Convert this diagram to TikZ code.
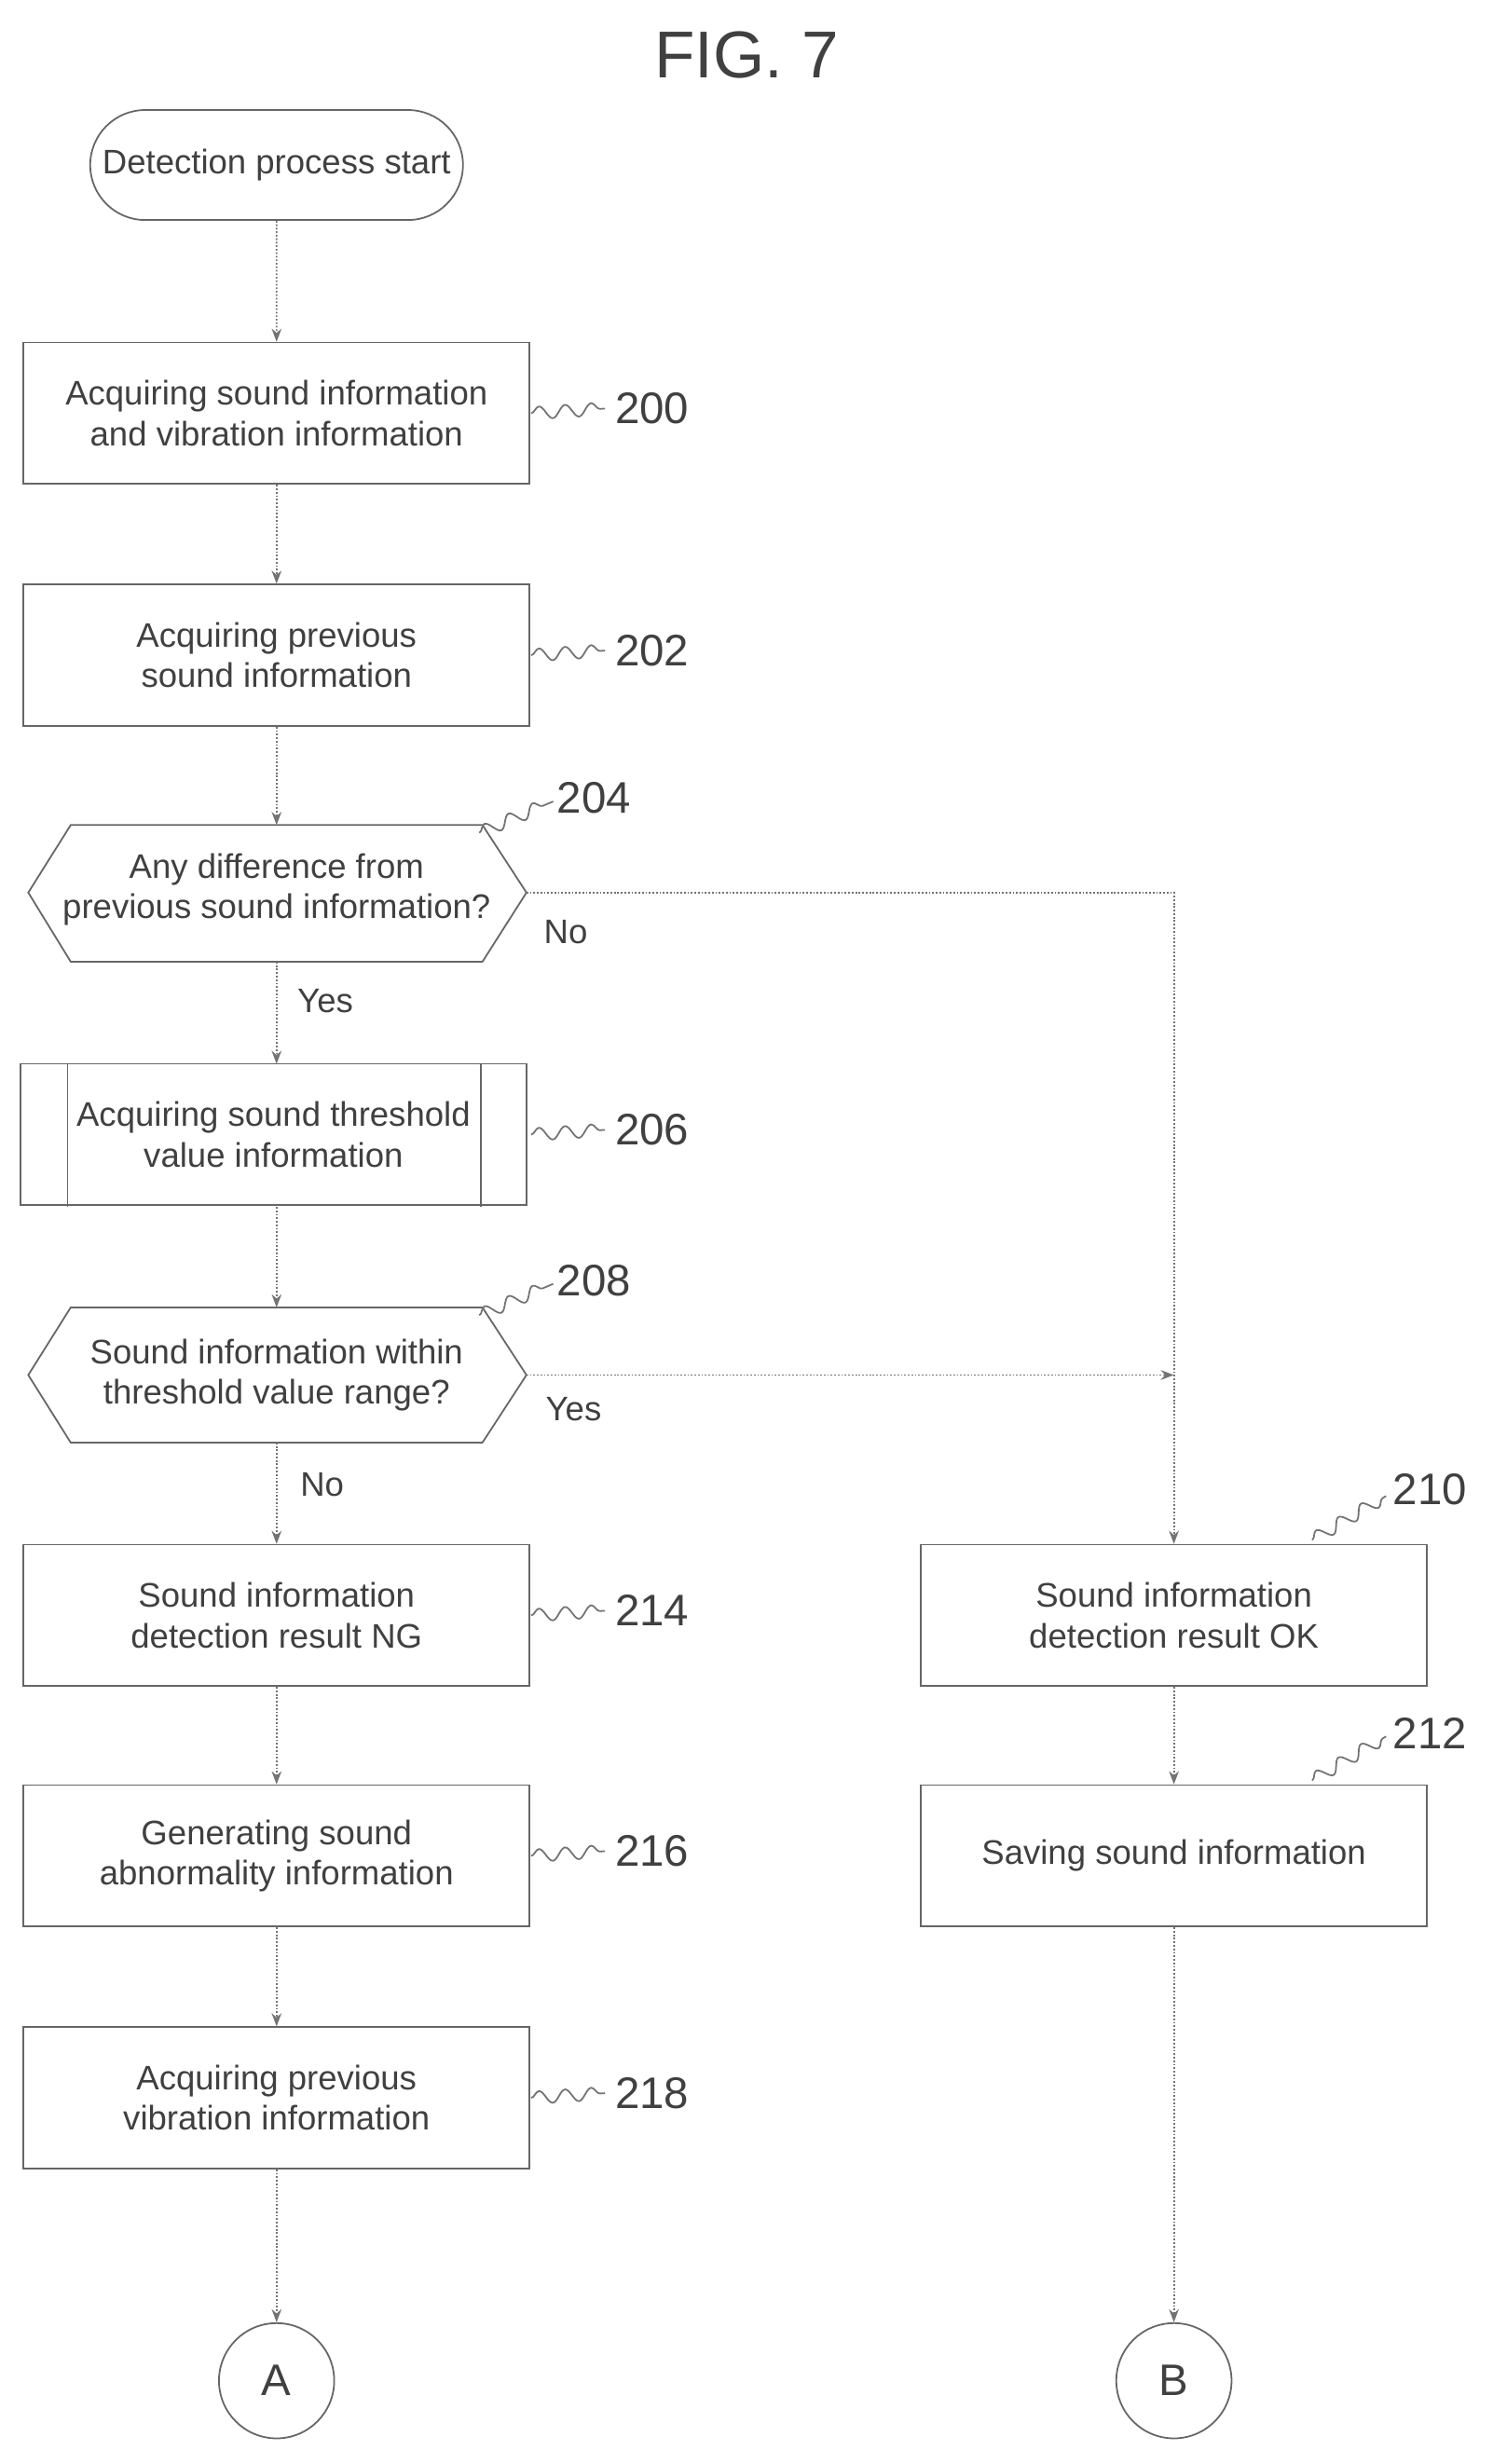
\documentclass[tikz,border=0pt]{standalone}
\usepackage{fontspec}
\setmainfont{Liberation Sans}
\usetikzlibrary{positioning}
\usetikzlibrary{arrows.meta}
\usetikzlibrary{shapes.misc}
\usetikzlibrary{decorations.pathmorphing}

\begin{document}
\begin{tikzpicture}[
  x=0.03cm, y=-0.03cm,
  every node/.style={font=\fontsize{18.5}{22}\selectfont, align=center, text=black!75},
  box/.style={draw=black!60, line width=0.9pt, minimum width=9.66cm, minimum height=2.7cm},
  term/.style={draw=black!60, line width=0.9pt, rounded rectangle, minimum width=7.35cm, minimum height=2.1cm},
  conn/.style={draw=black!60, line width=0.9pt, circle, minimum size=2.2cm, font=\fontsize{24}{28}\selectfont},
  arrow/.style={-{Stealth[length=2.5mm]}, black!55, line width=0.9pt, densely dotted},
  ref/.style={font=\fontsize{24}{28}\selectfont},
  squig/.style={black!55, line width=0.9pt, decorate, decoration={snake, amplitude=1.2mm, segment length=5mm}}
]
\useasboundingbox (0,0) rectangle (950,1568);

\node[font=\fontsize{36}{42}\selectfont] (title) at (475,35) {FIG. 7};

\node[term] (start) at (176,105) {Detection process start};
\node[box] (s200) at (176,263) {Acquiring sound information\\and vibration information};
\node[box] (s202) at (176,417) {Acquiring previous\\sound information};
% decision 204
\draw[black!60, line width=0.9pt] (18,568) -- (45,525) -- (307,525) -- (335,568) -- (307,612) -- (45,612) -- cycle;
\node (s204) at (176,566) {Any difference from\\previous sound information?};
\coordinate (d204t) at (176,525); \coordinate (d204b) at (176,612); \coordinate (d204r) at (335,568);
\node[box] (s206) at (174,722) {Acquiring sound threshold\\value information};
\draw[black!60, line width=0.9pt] (43,677) -- (43,768) (306,677) -- (306,768);
\coordinate (s206t) at (176,677); \coordinate (s206b) at (176,768);
% decision 208
\draw[black!60, line width=0.9pt] (18,875) -- (45,832) -- (307,832) -- (335,875) -- (307,918) -- (45,918) -- cycle;
\node (s208) at (176,875) {Sound information within\\threshold value range?};
\coordinate (d208t) at (176,832); \coordinate (d208b) at (176,918); \coordinate (d208r) at (335,875);
\node[box] (s214) at (176,1028) {Sound information\\detection result NG};
\node[box] (s216) at (176,1181) {Generating sound\\abnormality information};
\node[box] (s218) at (176,1335) {Acquiring previous\\vibration information};
\node[conn] (A) at (176,1515) {A};
\node[box] (s210) at (747,1028) {Sound information\\detection result OK};
\node[box] (s212) at (747,1181) {Saving sound information};
\node[conn] (B) at (747,1515) {B};
\coordinate (join) at (747,875);

\draw[arrow] (start) -- (s200);
\draw[arrow] (s200) -- (s202);
\draw[arrow] (s202) -- (d204t);
\draw[arrow] (d204b) -- (s206t);
\draw[arrow] (s206b) -- (d208t);
\draw[arrow] (d208b) -- (s214);
\draw[arrow] (s214) -- (s216);
\draw[arrow] (s216) -- (s218);
\draw[arrow] (s218) -- (A);
\draw[arrow] (d204r) -| (s210);
\draw[arrow] (d208r) -- (join);
\draw[arrow] (s210) -- (s212);
\draw[arrow] (s212) -- (B);
\node at (207,637) {Yes};
\node at (205,945) {No};
\node at (360,593) {No};
\node at (365,897) {Yes};

% reference numerals
\foreach \n/\y in {200/263, 202/417, 206/722, 214/1028, 216/1181, 218/1335} {
  \draw[squig] (338,\y) -- (385,\y-3);
  \node[ref] at (415,\y-3) {\n};
}
\draw[squig] (305,530) -- (352,510);
\node[ref] (n204) at (378,508) {204};
\draw[squig] (305,837) -- (352,817);
\node[ref] (n208) at (378,815) {208};
\draw[squig] (835,980) -- (882,952);
\node[ref] (n210) at (910,948) {210};
\draw[squig] (835,1133) -- (882,1105);
\node[ref] (n212) at (910,1103) {212};
\end{tikzpicture}
\end{document}
